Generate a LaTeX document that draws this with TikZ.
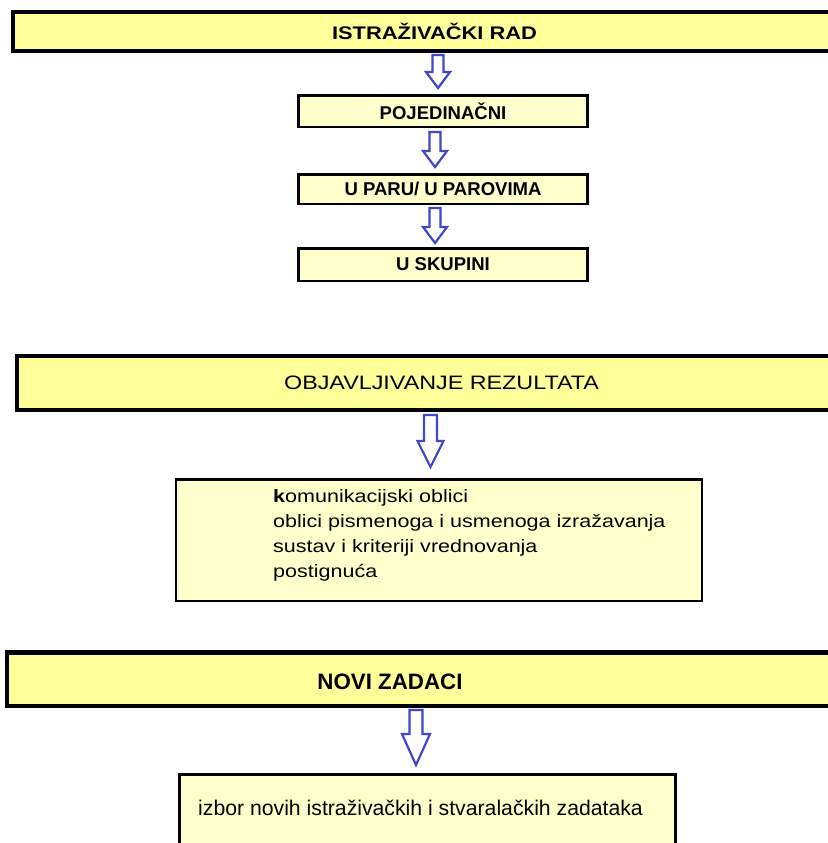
\documentclass[tikz,border=0pt]{standalone}
\usepackage{fontspec}
\setmainfont{Liberation Sans}
\newfontfamily\widefont[FakeStretch=1.2]{Liberation Sans}
\usepackage{xcolor}
\usepackage{tikz}
\usetikzlibrary{calc}
\definecolor{boxyellow}{RGB}{255,255,153}
\definecolor{paleyellow}{RGB}{255,255,204}
\definecolor{arrblue}{RGB}{63,72,204}
\tikzset{
    bigbox/.style = {rectangle, draw=black, line width=4bp, fill=boxyellow},
    smallbox/.style = {rectangle, draw=black, line width=2.5bp, fill=paleyellow, minimum width=289bp, font=\bfseries\fontsize{18.6}{20}\selectfont},
    textbox/.style = {rectangle, draw=black, line width=2.5bp, fill=paleyellow},
}

\begin{document}
\begin{tikzpicture}[
	x=1bp,
	y=-1bp
]
\tikzset{
    blockarrow/.style n args = {3}{draw=arrblue, fill=white, line width=2.2bp,
        to path={let \p1=(\tikztostart), \p2=(\tikztotarget) in
            (\x1-#1,\y1) -- (\x1+#1,\y1) -- (\x1+#1,\y2+#3) -- (\x1+#2,\y2+#3)
            -- (\x1,\y2) -- (\x1-#2,\y2+#3) -- (\x1-#1,\y2+#3) -- cycle}},
    smallarrow/.style = {blockarrow={5.5bp}{12bp}{16bp}},
    midarrow/.style = {blockarrow={6.5bp}{13bp}{26bp}},
    lowarrow/.style = {blockarrow={6.5bp}{14bp}{31bp}},
}
\useasboundingbox (0,0) rectangle (828,843);
%
\node[bigbox, minimum width=843bp, minimum height=39bp, font=\widefont\bfseries\fontsize{18.3}{21}\selectfont] (istr) at (434.5,31.5) {ISTRAŽIVAČKI RAD};
\node[smallbox, minimum height=31.5bp] (poj) at (443,111) {POJEDINAČNI};
\node[smallbox, minimum height=29.5bp] (upar) at (443,189) {U PARU/ U PAROVIMA};
\node[smallbox, minimum height=32.5bp] (usk) at (443,264.5) {U SKUPINI};
%
\node[bigbox, minimum width=849bp, minimum height=54bp, font=\widefont\fontsize{19.5}{24}\selectfont] (obj) at (441.5,383) {OBJAVLJIVANJE REZULTATA};
\node[textbox, minimum width=525.5bp, minimum height=121.5bp] (kom) at (439,540) {};
\node[anchor=north west, inner sep=0pt, align=left, font=\widefont\fontsize{18}{25.3}\selectfont] (komtxt) at (273,489)
    {\textbf{k}omunikacijski oblici\\oblici pismenoga i usmenoga izražavanja\\sustav i kriteriji vrednovanja\\postignuća};
%
\node[bigbox, line width=4.5bp, minimum width=850.5bp, minimum height=53.5bp] (novi) at (432.5,679) {};
\node[anchor=base, font=\bfseries\fontsize{22.4}{24}\selectfont] (novitxt) at (390,689) {NOVI ZADACI};
\node[textbox, line width=3bp, minimum width=496bp, minimum height=84bp] (izbor) at (427.5,816.5) {};
\node[anchor=base west, inner sep=0pt, font=\fontsize{21.3}{24}\selectfont] (izbortxt) at (198,815) {izbor novih istraživačkih i stvaralačkih zadataka};
%
\draw[smallarrow] ([xshift=3.5bp,yshift=-2bp]istr.south) to ([yshift=6bp]poj.north);
\draw[smallarrow] ([xshift=-8bp,yshift=-4bp]poj.south) to ([yshift=6bp]upar.north);
\draw[smallarrow] ([xshift=-8bp,yshift=-3bp]upar.south) to ([yshift=4bp]usk.north);
\draw[midarrow] ([xshift=-11bp,yshift=-3bp]obj.south) to ([yshift=11bp]kom.north);
\draw[lowarrow] ([xshift=-16.5bp,yshift=-2bp]novi.south) to ([yshift=8bp]izbor.north);
\end{tikzpicture}
\end{document}
